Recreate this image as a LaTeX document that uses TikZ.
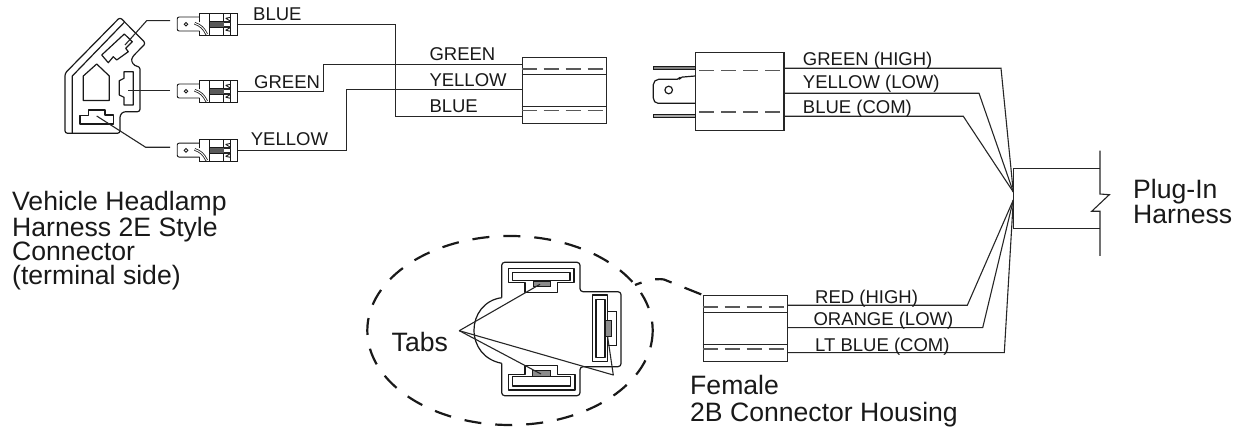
\documentclass[tikz,border=0pt]{standalone}
\usepackage{fontspec}
\setmainfont{Liberation Sans}
\tikzset{
  wire/.style={line width=1.1pt,black!85,line join=miter},
  outline/.style={line width=1.2pt,black!90,line join=round},
  thin part/.style={line width=0.9pt,black!90},
  housing/.style={draw=black!85,line width=1.2pt,rectangle,inner sep=0pt,anchor=north west},
  dashline/.style={line width=1.1pt,black!65,dash pattern=on 15pt off 7pt},
  wirelabel/.style={font=\fontsize{18.5}{20}\selectfont,anchor=base west,inner sep=0pt,text=black!90},
  biglabel/.style={font=\fontsize{26.6}{24.4}\selectfont,anchor=base west,inner sep=0pt,align=left,text=black!90},
  bigdash/.style={line width=2.2pt,black!90},
  terminal/.pic={
    \draw[thin part,rounded corners=2pt] (23,-7.3) -- (0.5,-7.3) -- (0.5,6.7) -- (23,6.7);
    \draw[thin part] (9.3,0) circle (1.8);
    \draw[thin part] (23,-2) -- (23,-10.5) -- (61,-10.5) -- (61,11) -- (23,11) -- (23,7);
    \draw[thin part] (33,-10.5) -- (33,11) (47,-10.5) -- (47,11) (54,-10.5) -- (54,11);
    \draw[line width=2.6pt,black!90] (18,-1) .. controls (24,1) and (27,4) .. (30,10);
    \draw[line width=1pt,white] (18,-1) .. controls (24,1) and (27,4) .. (30,10);
    \fill[black!65] (33,-3) rectangle (47,3);
    \draw[thin part] (33,-3) -- (47,-3) (33,3) -- (47,3);
    \draw[line width=1.6pt,black!85] (47,-2.5) -- (54,-2.5) (47,2.5) -- (54,2.5);
    \draw[thin part] (49,-6) -- (54,-3) (49,6) -- (54,3) (49,-6) -- (54,-7) (49,6) -- (54,7);
  }
}
\begin{document}
\begin{tikzpicture}[x=1pt,y=-1pt]
\useasboundingbox (0,0) rectangle (1239,427);

% vehicle connector
\draw[outline,rounded corners=2.5pt] (120,17.3) -- (145.7,43.3) -- (132.5,56.7) .. controls (131,62) and (134,66) .. (140,66.7) -- (140,111.7) -- (123.3,111.7) -- (120,115) -- (120,133.3) -- (65,133.3) -- (65,73.3) -- cycle;
\draw[outline] (72.3,133.3) -- (72.3,76) -- (124.3,22.3);
\draw[outline] (83.3,100.5) -- (83.3,76) -- (96.7,64) -- (109.3,76) -- (109.3,100.5) -- cycle;
\draw[outline] (101.7,55) -- (124.3,34) -- (132.3,41.7) -- (125.7,48.3) -- (128.3,51.7) -- (116.7,60) -- (113.3,56.7) -- (108.3,62.7) -- cycle;
\draw[outline] (124,71.7) -- (133.3,71.7) -- (133.3,105) -- (124,105) -- (124,97.3) -- (119.3,95) -- (119.3,80.7) -- (124,78.3) -- cycle;
\draw[outline] (80,115.7) -- (88.3,115.7) -- (88.3,110) -- (105,110) -- (105,115) -- (113.7,115) -- (113.7,124) -- (80,124) -- cycle;

% terminals
\pic at (176.7,24.3) {terminal};
\pic at (176.7,91.3) {terminal};
\pic at (176.7,150.4) {terminal};
\coordinate (tb) at (237.7,24.3);
\coordinate (tg) at (237.7,91.3);
\coordinate (ty) at (237.7,150.4);
\coordinate (sb) at (125,45);
\coordinate (sg) at (128.3,90.4);
\coordinate (sy) at (96.7,116);
\coordinate (lb) at (170,20.7);
\coordinate (lg) at (170,90.4);
\coordinate (ly) at (170,147.3);
\draw[wire] (lb) -- (146.7,20.7) -- (sb);
\draw[wire] (lg) -- (sg);
\draw[wire] (ly) -- (145.7,147.3) -- (sy);

% housings
\node[housing,minimum width=84.3pt,minimum height=66.6pt] (mid) at (521.7,56.7) {};
\node[housing,minimum width=88.3pt,minimum height=78pt] (male) at (695,52) {};
\node[housing,minimum width=84pt,minimum height=66.3pt] (female) at (702.7,295) {};

% middle housing inner lines
\draw[wire] (mid.west |- 0,74.4) -- (mid.east |- 0,74.4);
\draw[wire] (mid.west |- 0,106.4) -- (mid.east |- 0,106.4);
\draw[dashline] (mid.west |- 0,69) -- (mid.east |- 0,69);
\draw[dashline] (mid.west |- 0,110.7) -- (mid.east |- 0,110.7);
% male inner lines
\draw[dashline,dash phase=-4pt] (male.west |- 0,70.9) -- (male.east |- 0,70.9);
\draw[dashline,dash phase=-4pt] (male.west |- 0,112) -- (male.east |- 0,112);
% female inner lines
\draw[wire] (female.west |- 0,312.4) -- (female.east |- 0,312.4);
\draw[wire] (female.west |- 0,344.4) -- (female.east |- 0,344.4);
\draw[dashline] (female.west |- 0,307) -- (female.east |- 0,307);
\draw[dashline] (female.west |- 0,349) -- (female.east |- 0,349);

% male pins and blade
\draw[line width=0.6pt,black!90,fill=black!50] (653.3,66.2) rectangle (male.west |- 0,69.8);
\draw[line width=0.6pt,black!90,fill=black!35] (653.3,114.2) rectangle (male.west |- 0,117.2);
\draw[outline,rounded corners=2pt] (male.west |- 0,76) -- (680,77.3) -- (679.3,79.3) -- (656.7,79.3) -- (653.3,82.7) -- (653.3,100) -- (656,103.3) -- (male.west |- 0,103.3);
\draw[outline] (668.7,90) circle (3.8);

% wires to mid housing
\coordinate (mb) at (mid.west |- 0,116.7);
\coordinate (mg) at (mid.west |- 0,64.4);
\coordinate (my) at (mid.west |- 0,89.5);
\draw[wire] (tb) -- (395.3,24.3) -- (395.3,116.7) -- (mb);
\draw[wire] (tg) -- (323.3,91.3) -- (323.3,64.4) -- (mg);
\draw[wire] (ty) -- (346.4,150.4) -- (346.4,89.5) -- (my);

% harness
\coordinate (hu) at (1013.3,192);
\coordinate (hl) at (1013.3,200);
\coordinate (htl) at (1013.3,168.3);
\coordinate (hbl) at (1013.3,228.3);
\coordinate (htr) at (1100,168.3);
\coordinate (hbr) at (1100,228.3);
\draw[wire] (htl) -- (hbl);
\draw[wire] (htl) -- (htr);
\draw[wire] (hbl) -- (hbr);
\draw[wire] (1100,150.7) -- (1100,194) -- (1109.3,194.7) -- (1091.7,211.3) -- (1100,211.3) -- (1100,256);

\draw[wire] (male.east |- 0,68.3) -- (1001,68.3) -- (hu);
\draw[wire] (male.east |- 0,93.3) -- (979,93.3) -- (hu);
\draw[wire] (male.east |- 0,116.3) -- (963.3,116.3) -- (hu);
\draw[wire] (female.east |- 0,305.3) -- (967.3,305.3) -- (hl);
\draw[wire] (female.east |- 0,327.7) -- (982.7,327.7) -- (hl);
\draw[wire] (female.east |- 0,352.7) -- (1004.3,352.7) -- (hl);

% detail ellipse
\draw[bigdash,dash pattern=on 17pt off 14pt] (510,330.5) ellipse [x radius=142.7,y radius=94.5];
\coordinate (tail) at (635,285);
\draw[bigdash,dash pattern=on 7pt off 14pt on 17pt off 14pt on 18pt off 40pt] (tail) .. controls (645,281) and (655,278) .. (664,279.5) -- (female.north west);

% tabs housing
\draw[outline,rounded corners=3pt] (501.7,297.7) -- (501.7,262.3) -- (580,262.3) -- (580,291.7) -- (621,291.7) -- (621,366.7) -- (580,366.7) -- (580,395.7) -- (501.7,395.7) -- (501.7,363.3);
\draw[outline] (501.7,297.7) .. controls (484,300) and (474,315) .. (474,330) .. controls (474,346) and (484,360) .. (501.7,363.3);
\draw[outline] (508.3,268.3) -- (574,268.3) -- (574,282.7) -- (557.7,282.7) -- (557.7,292.3) -- (525,292.3) -- (525,282.7) -- (508.3,282.7) -- cycle;
\draw[outline] (512.7,272.3) rectangle (570,280.7);
\draw[thin part,fill=black!45] (533.3,281.7) rectangle (550,286);
\draw[outline] (508.3,374.3) -- (525,374.3) -- (525,365.7) -- (557.7,365.7) -- (557.7,374.3) -- (575,374.3) -- (575,390) -- (508.3,390) -- cycle;
\draw[outline] (512.7,376.7) rectangle (570.7,386);
\draw[thin part,fill=black!45] (532.7,370.7) rectangle (550,376);
\draw[outline] (592.7,295) rectangle (607.7,361.7);
\draw[outline] (596,299.3) rectangle (605,357.3);
\draw[thin part] (607.7,311.7) -- (616.7,311.7) -- (616.7,345) -- (607.7,345);
\draw[thin part,fill=black!45] (605.7,320) rectangle (611.7,336.7);

% tabs leaders
\coordinate (apex) at (459.3,330.7);
\coordinate (tabt) at (540,284.3);
\coordinate (tabb) at (541,374);
\coordinate (tabr) at (607.7,337.3);
\draw[wire,line join=round] (tabt) -- (apex) -- (tabb);
\draw[wire,line join=round] (apex) -- (613.3,375) -- (tabr);

% labels
\node[wirelabel] (l1) at (253,21) {BLUE};
\node[wirelabel] (l2) at (254,88.3) {GREEN};
\node[wirelabel] (l3) at (250.7,145.7) {YELLOW};
\node[wirelabel] (l4) at (429.3,61) {GREEN};
\node[wirelabel] (l5) at (429.3,86.7) {YELLOW};
\node[wirelabel] (l6) at (429.3,112.7) {BLUE};
\node[wirelabel] (l7) at (802.7,65.7) {GREEN (HIGH)};
\node[wirelabel] (l8) at (802.7,88.3) {YELLOW (LOW)};
\node[wirelabel] (l9) at (802.7,113.3) {BLUE (COM)};
\node[wirelabel] (l10) at (815,303.3) {RED (HIGH)};
\node[wirelabel] (l11) at (813.3,326) {ORANGE (LOW)};
\node[wirelabel] (l12) at (815,351.7) {LT BLUE (COM)};
\node[biglabel] (veh) at (12,285) {Vehicle Headlamp\\Harness 2E Style\\Connector\\(terminal side)};
\node[biglabel] (tabs) at (391.5,352) {Tabs};
\node[biglabel] (plug) at (1133,223.5) {Plug-In\\[0.6pt]Harness};
\node[biglabel] (fem) at (690,421.5) {Female\\[2.2pt]2B Connector Housing};
\end{tikzpicture}
\end{document}
